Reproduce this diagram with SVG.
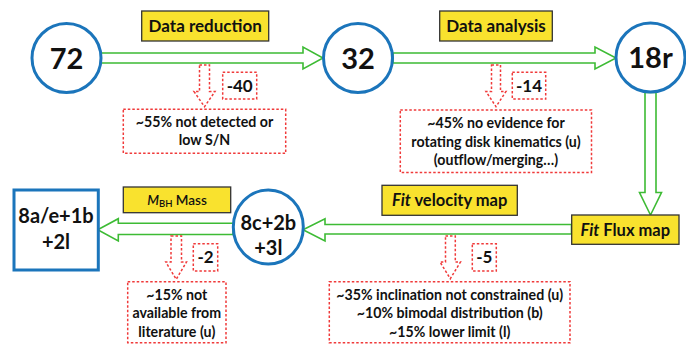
<svg xmlns="http://www.w3.org/2000/svg" width="686" height="344" viewBox="0 0 686 344">
<style>
text{font-family:Lato,"Open Sans","Liberation Sans",sans-serif;font-weight:700;fill:#111;text-anchor:middle}
.node{fill:#fff;stroke:#1b75bb;stroke-width:3}
.garrow{fill:#fff;stroke:#3dbb34;stroke-width:1.6;stroke-linejoin:miter}
.rarrow{fill:#fff;stroke:#f03a3a;stroke-width:1.5;stroke-dasharray:2.5 2}
.rbox{fill:#fff;stroke:#f03a3a;stroke-width:1.5;stroke-dasharray:2.5 2}
.lbl{fill:#f9e22e;stroke:#333;stroke-width:1.3}
.big{font-size:29px}
.mid{font-size:20px}
.note{font-size:14.2px}
.cnt{font-size:17px}
.tag{font-size:17px}
</style>
<g id="connectors">
<polygon class="garrow" points="101,53 303,53 303,47 323,58 303,69 303,63 101,63"/>
<polygon class="garrow" points="393,53 595,53 595,47 616,58 595,69 595,63 393,63"/>
<polygon class="garrow" points="645,92.5 656,92.5 656,192.5 661.5,192.5 650.5,215 639.5,192.5 645,192.5"/>
<polygon class="garrow" points="571.5,224.5 325,224.5 325,218.7 303,229.8 325,241 325,234 571.5,234"/>
<polygon class="garrow" points="233,223.3 118.3,223.3 118.3,218.7 97.7,229.8 118.3,241 118.3,234.5 233,234.5"/>
<polygon class="rarrow" points="199.5,65 209.5,65 209.5,91.5 215,91.5 204.5,106.7 194,91.5 199.5,91.5"/>
<polygon class="rarrow" points="491.5,65 500.5,65 500.5,91.5 506,91.5 496,106.7 486,91.5 491.5,91.5"/>
<polygon class="rarrow" points="171,236 181.5,236 181.5,262 186.5,262 176.2,279.3 165.8,262 171,262"/>
<polygon class="rarrow" points="445.5,236 455.3,236 455.3,262 460.5,262 450.3,278.7 440,262 445.5,262"/>
</g>
<g id="n72"><circle class="node" cx="66.5" cy="58" r="34.5"/><text class="big" x="66.5" y="68.5">72</text></g>
<g id="n32"><circle class="node" cx="358" cy="58" r="34.5"/><text class="big" x="358" y="68.5">32</text></g>
<g id="n18r"><circle class="node" cx="650.5" cy="57.5" r="34.5"/><text class="big" x="650.5" y="68">18r</text></g>
<g id="n8c"><ellipse class="node" cx="268.3" cy="227" rx="35" ry="37"/><text class="mid" x="268.3" y="230">8c+2b</text><text class="mid" x="268.3" y="255">+3l</text></g>
<g id="n8a"><rect class="node" x="14" y="190" width="84.3" height="80"/><text class="mid" x="56" y="223">8a/e+1b</text><text class="mid" x="56" y="248.5">+2l</text></g>
<g id="lbl-reduction"><rect class="lbl" x="141.7" y="11" width="127" height="30"/><text class="tag" x="205.2" y="32">Data reduction</text></g>
<g id="lbl-analysis"><rect class="lbl" x="439.7" y="11" width="112.6" height="30"/><text class="tag" x="496" y="32">Data analysis</text></g>
<g id="lbl-velocity"><rect class="lbl" x="382" y="185.3" width="135.3" height="30"/><text style="font-size:16.5px" x="449.7" y="206"><tspan font-style="italic">Fit</tspan> velocity map</text></g>
<g id="lbl-flux"><rect class="lbl" x="571.7" y="215" width="107.3" height="29.3"/><text style="font-size:16.5px" x="625.3" y="235.5"><tspan font-style="italic">Fit</tspan> Flux map</text></g>
<g id="lbl-mbh"><rect class="lbl" x="123.3" y="187" width="107.4" height="25.7"/><text style="font-size:13.5px;font-weight:600" x="177" y="204.5"><tspan font-style="italic">M</tspan><tspan style="font-size:9.5px" dy="2">BH</tspan><tspan dy="-2"> Mass</tspan></text></g>
<g id="cnt40"><rect class="rbox" x="222.7" y="72.3" width="34" height="26.7"/><text class="cnt" x="239.7" y="91.5">-40</text></g>
<g id="cnt14"><rect class="rbox" x="512.3" y="72.3" width="33.4" height="26.7"/><text class="cnt" x="529" y="91.5">-14</text></g>
<g id="cnt2"><rect class="rbox" x="193.3" y="243.7" width="24.4" height="27.3"/><text class="cnt" x="205.5" y="263">-2</text></g>
<g id="cnt5"><rect class="rbox" x="472.3" y="243.7" width="24" height="27.3"/><text class="cnt" x="484.3" y="263">-5</text></g>
<g id="note1"><rect class="rbox" x="123.3" y="109.3" width="162.4" height="44"/><text class="note" x="204.5" y="126.5">~55% not detected or</text><text class="note" x="204.5" y="145">low S/N</text></g>
<g id="note2"><rect class="rbox" x="400.3" y="110" width="191.2" height="62.5"/><text class="note" x="496" y="128">~45% no evidence for</text><text class="note" x="496" y="146.5">rotating disk kinematics (u)</text><text class="note" x="496" y="165">(outflow/merging…)</text></g>
<g id="note3"><rect class="rbox" x="127.7" y="281.7" width="98.3" height="61"/><text class="note" x="176.8" y="299.5">~15% not</text><text class="note" x="176.8" y="318">available from</text><text class="note" x="176.8" y="336.5">literature (u)</text></g>
<g id="note4"><rect class="rbox" x="329.3" y="281.7" width="240.7" height="61"/><text class="note" x="449.7" y="299.5">~35% inclination not constrained (u)</text><text class="note" x="449.7" y="318">~10% bimodal distribution (b)</text><text class="note" x="449.7" y="336.5">~15% lower limit (l)</text></g>
</svg>
